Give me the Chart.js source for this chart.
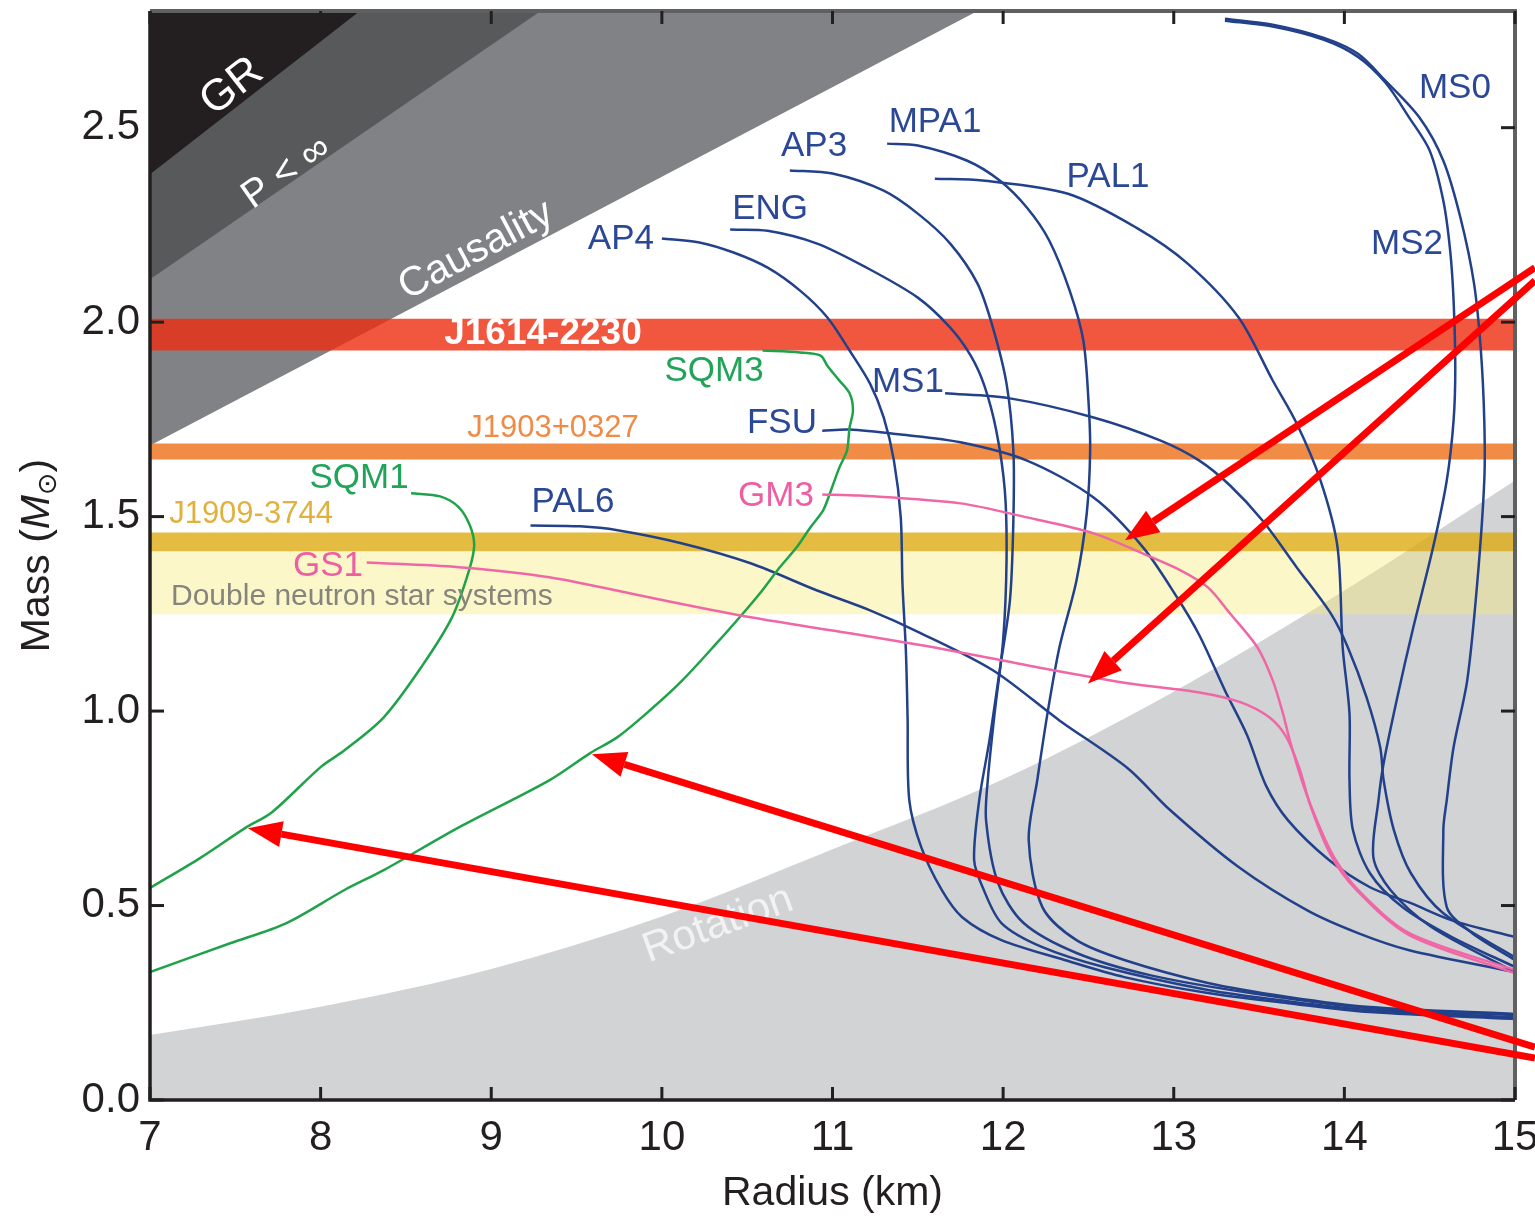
<!DOCTYPE html>
<html>
<head>
<meta charset="utf-8">
<title>Mass-radius</title>
<script src="https://cdn.jsdelivr.net/npm/chart.js@4.4.1/dist/chart.umd.min.js"></script>
<style>
  html, body { margin: 0; padding: 0; background: #ffffff; }
  #wrap { width: 1535px; height: 1218px; }
</style>
</head>
<body>
<div id="wrap"><canvas id="mrChart" width="1535" height="1218"></canvas></div>
<script>
(function () {
    "use strict";

    // Axis ticks
    const radiusTicks = [7, 8, 9, 10, 11, 12, 13, 14, 15];
    const massTicks = [0, 0.5, 1.0, 1.5, 2.0, 2.5];

    // Excluded regions (radius km, mass Msun)
    const grEdge = [[7, 2.38], [8.23, 2.8]];
    const pinfEdge = [[7, 2.11], [9.29, 2.8]];
    const causalityEdge = [[7, 1.683], [11.85, 2.8]];
    const rotationEdge = [[7, 0.167], [8, 0.24], [9, 0.337], [10, 0.472], [11, 0.645], [12, 0.825], [13, 1.05], [14, 1.31], [15, 1.593]];

    // Pulsar mass bands [low, high]
    const j1614 = [1.927, 2.009];
    const j1903 = [1.647, 1.688];
    const j1909 = [1.411, 1.459];
    const dns = [1.249, 1.411];

    // Equation of state curves
    const ap4 = [[10.00, 2.215], [10.22, 2.205], [10.42, 2.179], [10.62, 2.140], [10.81, 2.081], [10.97, 2.012], [11.10, 1.927], [11.22, 1.842], [11.30, 1.755], [11.36, 1.644], [11.40, 1.498], [11.41, 1.328], [11.43, 1.156], [11.44, 0.984], [11.45, 0.771], [11.52, 0.650], [11.64, 0.540], [11.76, 0.470], [11.99, 0.411], [12.36, 0.360], [12.71, 0.316], [13.20, 0.275], [13.67, 0.249], [14.15, 0.226], [15.0, 0.208]];
    const eng = [[10.40, 2.238], [10.62, 2.235], [10.91, 2.202], [11.20, 2.140], [11.50, 2.063], [11.69, 1.986], [11.81, 1.914], [11.89, 1.837], [11.96, 1.721], [12.01, 1.567], [12.02, 1.387], [12.00, 1.182], [11.95, 0.994], [11.91, 0.822], [11.90, 0.719], [11.97, 0.558], [12.12, 0.455], [12.43, 0.378], [12.86, 0.321], [13.45, 0.275], [14.15, 0.236], [15.0, 0.218]];
    const ap3 = [[10.75, 2.390], [11.00, 2.382], [11.30, 2.338], [11.50, 2.279], [11.69, 2.202], [11.85, 2.099], [11.94, 1.986], [12.02, 1.842], [12.06, 1.670], [12.06, 1.490], [12.04, 1.285], [11.98, 1.105], [11.92, 0.925], [11.86, 0.771], [11.83, 0.617], [11.88, 0.547], [11.99, 0.455], [12.23, 0.393], [12.59, 0.342], [13.20, 0.283], [13.67, 0.254], [14.15, 0.231], [15.0, 0.213]];
    const mpa1 = [[11.32, 2.459], [11.50, 2.454], [11.79, 2.415], [11.98, 2.364], [12.14, 2.294], [12.27, 2.210], [12.39, 2.081], [12.47, 1.953], [12.50, 1.799], [12.51, 1.670], [12.49, 1.508], [12.43, 1.336], [12.33, 1.164], [12.26, 0.994], [12.20, 0.822], [12.15, 0.668], [12.23, 0.496], [12.43, 0.411], [12.71, 0.360], [13.20, 0.301], [13.67, 0.265], [14.15, 0.239], [15.0, 0.221]];
    const pal1 = [[11.60, 2.369], [11.88, 2.364], [12.38, 2.330], [12.78, 2.243], [13.08, 2.151], [13.38, 2.012], [13.58, 1.850], [13.72, 1.740], [13.86, 1.593], [13.96, 1.421], [13.99, 1.164], [14.03, 0.994], [14.03, 0.822], [14.05, 0.694], [14.15, 0.583], [14.34, 0.496], [14.63, 0.419], [15.0, 0.342]];
    const ms1 = [[11.66, 1.817], [12.04, 1.804], [12.53, 1.755], [12.92, 1.696], [13.15, 1.644], [13.33, 1.580], [13.52, 1.490], [13.72, 1.370], [13.92, 1.251], [14.02, 1.164], [14.13, 1.035], [14.21, 0.907], [14.23, 0.822], [14.29, 0.694], [14.39, 0.583], [14.58, 0.480], [15.0, 0.367]];
    const ms2 = [[13.30, 2.775], [13.58, 2.760], [13.88, 2.726], [14.08, 2.682], [14.24, 2.616], [14.38, 2.526], [14.50, 2.441], [14.58, 2.312], [14.62, 2.184], [14.64, 2.056], [14.65, 1.883], [14.64, 1.747], [14.60, 1.593], [14.52, 1.421], [14.40, 1.208], [14.31, 1.035], [14.23, 0.866], [14.20, 0.771], [14.17, 0.624], [14.27, 0.540], [14.51, 0.445], [15.0, 0.329]];
    const ms0 = [[13.30, 2.780], [13.58, 2.765], [13.88, 2.731], [14.08, 2.690], [14.24, 2.621], [14.44, 2.526], [14.58, 2.415], [14.68, 2.269], [14.76, 2.099], [14.80, 1.927], [14.82, 1.747], [14.82, 1.593], [14.78, 1.336], [14.72, 1.079], [14.64, 0.907], [14.60, 0.771], [14.58, 0.694], [14.60, 0.496], [14.75, 0.429], [15.0, 0.360]];
    const fsu = [[10.94, 1.721], [11.10, 1.724], [11.40, 1.711], [11.75, 1.691], [12.14, 1.644], [12.53, 1.549], [12.82, 1.421], [13.02, 1.292], [13.15, 1.195], [13.30, 1.053], [13.43, 0.938], [13.54, 0.809], [13.67, 0.719], [13.91, 0.617], [14.15, 0.547], [14.39, 0.506], [14.63, 0.462], [15.0, 0.419]];
    const pal6 = [[9.23, 1.477], [9.52, 1.475], [9.74, 1.465], [10.12, 1.431], [10.52, 1.380], [10.91, 1.310], [11.22, 1.259], [11.51, 1.202], [11.94, 1.105], [12.33, 0.976], [12.73, 0.853], [12.98, 0.745], [13.38, 0.599], [13.78, 0.488], [14.08, 0.429], [14.38, 0.385], [15.0, 0.329]];
    const gm3 = [[10.94, 1.557], [11.16, 1.554], [11.75, 1.534], [12.14, 1.498], [12.53, 1.457], [12.82, 1.405], [13.04, 1.362], [13.20, 1.318], [13.33, 1.251], [13.49, 1.164], [13.58, 1.079], [13.64, 0.994], [13.68, 0.925], [13.76, 0.809], [13.85, 0.707], [13.94, 0.624], [14.08, 0.540], [14.38, 0.429], [15.0, 0.334]];
    const gs1 = [[8.27, 1.382], [8.81, 1.370], [9.34, 1.344], [9.93, 1.292], [10.52, 1.241], [11.10, 1.200], [11.69, 1.156], [12.27, 1.107], [12.74, 1.071], [13.15, 1.048], [13.39, 1.023], [13.56, 0.984], [13.66, 0.933], [13.74, 0.848], [13.80, 0.758], [13.92, 0.630], [14.07, 0.540], [14.38, 0.424], [15.0, 0.326]];
    const sqm1 = [[8.53, 1.560], [8.70, 1.552], [8.81, 1.524], [8.875, 1.477], [8.90, 1.426], [8.87, 1.362], [8.77, 1.241], [8.59, 1.113], [8.37, 0.984], [8.14, 0.899], [8.00, 0.856], [7.715, 0.740], [7.557, 0.699], [7.293, 0.622], [7.0, 0.545]];
    const sqm3 = [[10.59, 1.927], [10.81, 1.922], [10.93, 1.914], [10.97, 1.888], [11.03, 1.855], [11.10, 1.817], [11.12, 1.773], [11.10, 1.729], [11.085, 1.670], [11.04, 1.626], [10.985, 1.560], [10.945, 1.516], [10.87, 1.472], [10.79, 1.421], [10.69, 1.369], [10.575, 1.303], [10.475, 1.251], [10.32, 1.174], [10.12, 1.079], [9.93, 1.002], [9.74, 0.933], [9.58, 0.892], [9.34, 0.822], [8.81, 0.701], [8.37, 0.591], [8.14, 0.540], [7.80, 0.455], [7.47, 0.403], [7.0, 0.329]];

    // Label anchors [text, radius, mass]
    const blueLabels = [['MS0', 14.648, 2.600], ['MPA1', 11.601, 2.515], ['AP3', 10.892, 2.451], ['PAL1', 12.615, 2.372], ['ENG', 10.634, 2.289], ['MS2', 14.367, 2.199], ['AP4', 9.760, 2.212], ['MS1', 11.442, 1.845], ['FSU', 10.704, 1.739], ['PAL6', 9.479, 1.536]];
    const greenLabels = [['SQM3', 10.306, 1.873], ['SQM1', 8.225, 1.598]];
    const pinkLabels = [['GM3', 10.669, 1.552], ['GS1', 8.043, 1.372]];
    const regionLabels = [['GR', 7.481, 2.605, -38, 44], ['P < ∞', 7.80, 2.385, -35, 39], ['Causality', 8.911, 2.184, -28, 41], ['Rotation', 10.329, 0.450, -20, 42]];

    // Annotation arrows [tail radius, tail mass, head radius, head mass]
    const arrows = [[15.117, 2.140, 12.714, 1.439], [15.117, 2.107, 12.497, 1.071], [15.117, 0.136, 9.59, 0.889], [15.117, 0.108, 7.574, 0.699]];

    const pts = a => a.map(p => ({x: p[0], y: p[1]}));
    const FONT = '"Liberation Sans", Arial, "DejaVu Sans", sans-serif';

    const blue = '#22418a', pink = '#f067a6', green = '#1fa24a';

    function curve(label, arr, color, order) {
        return {
            label, data: pts(arr), showLine: true, fill: false,
            borderColor: color, borderWidth: 2.5, pointRadius: 0,
            tension: 0.3, order
        };
    }
    function wedge(label, arr, color, fill, order, mono) {
        return {
            label, data: pts(arr), showLine: true, fill: fill,
            borderWidth: 0, borderColor: 'rgba(0,0,0,0)', backgroundColor: color,
            pointRadius: 0, tension: mono ? 0.4 : 0,
            cubicInterpolationMode: mono ? 'monotone' : 'default', order
        };
    }
    function band(label, range, color, order) {
        return {
            label, data: pts([[7, range[1]], [15, range[1]]]), showLine: true,
            fill: {value: range[0]}, borderWidth: 0, borderColor: 'rgba(0,0,0,0)',
            backgroundColor: color, pointRadius: 0, order
        };
    }

    const datasets = [
        wedge('Causality', causalityEdge, '#808285', 'end', 200),
        wedge('P<inf', pinfEdge, '#58595b', 'end', 199),
        wedge('GR', grEdge, '#231f20', 'end', 198),
        wedge('Rotation', rotationEdge, '#d1d3d4', 'start', 197, true),
        band('DNS', dns, 'rgba(247,236,120,0.4)', 150),
        band('J1909-3744', j1909, 'rgba(221,171,19,0.8)', 149),
        band('J1903+0327', j1903, 'rgba(236,111,24,0.8)', 148),
        band('J1614-2230', j1614, 'rgba(238,45,15,0.8)', 147),
        curve('AP4', ap4, blue, 30),
        curve('ENG', eng, blue, 30),
        curve('AP3', ap3, blue, 30),
        curve('MPA1', mpa1, blue, 30),
        curve('PAL1', pal1, blue, 30),
        curve('MS1', ms1, blue, 30),
        curve('MS2', ms2, blue, 30),
        curve('MS0', ms0, blue, 30),
        curve('FSU', fsu, blue, 30),
        curve('PAL6', pal6, blue, 30),
        curve('GM3', gm3, pink, 20),
        curve('GS1', gs1, pink, 20),
        curve('SQM1', sqm1, green, 20),
        curve('SQM3', sqm3, green, 20)
    ];

    // Texts, frame with inward ticks, arrows
    const overlay = {
        id: 'overlay',
        afterDraw(chart) {
            const {ctx, chartArea: a, scales: {x, y}} = chart;
            const px = v => x.getPixelForValue(v);
            const py = v => y.getPixelForValue(v);

            function text(str, r, m, size, color, angle, weight) {
                ctx.save();
                ctx.translate(px(r), py(m));
                ctx.rotate((angle || 0) * Math.PI / 180);
                ctx.font = (weight || '') + ' ' + size + 'px ' + FONT;
                ctx.fillStyle = color;
                ctx.textAlign = 'center';
                ctx.textBaseline = 'middle';
                ctx.fillText(str, 0, 0);
                ctx.restore();
            }

            ctx.save();
            regionLabels.forEach(l => text(l[0], l[1], l[2], l[4], l[0] === 'Rotation' ? '#f2f2f3' : '#ffffff', l[3]));
            text('J1614-2230', 9.303, 1.971, 37, '#ffffff', 0, 'bold');
            text('J1903+0327', 9.362, 1.727, 31, '#ef8b45');
            text('J1909-3744', 7.592, 1.505, 31, '#e0b13f');
            text('Double neutron star systems', 8.242, 1.295, 30, '#85857e');
            blueLabels.forEach(l => text(l[0], l[1], l[2], 35, '#2a4896'));
            greenLabels.forEach(l => text(l[0], l[1], l[2], 35, '#22a35a'));
            pinkLabels.forEach(l => text(l[0], l[1], l[2], 35, '#ee5ea3'));

            // frame
            ctx.lineCap = 'butt';
            ctx.strokeStyle = '#5f6062';
            ctx.lineWidth = 4;
            ctx.beginPath();
            ctx.moveTo(a.left, a.top); ctx.lineTo(a.right, a.top); ctx.lineTo(a.right, a.bottom);
            ctx.stroke();
            ctx.strokeStyle = '#231f20';
            ctx.lineWidth = 3.5;
            ctx.beginPath();
            ctx.moveTo(a.left, a.top); ctx.lineTo(a.left, a.bottom); ctx.lineTo(a.right, a.bottom);
            ctx.stroke();

            ctx.lineWidth = 3;
            const seg = (x1, y1, x2, y2) => { ctx.beginPath(); ctx.moveTo(x1, y1); ctx.lineTo(x2, y2); ctx.stroke(); };
            massTicks.forEach(v => { const yy = py(v); seg(a.left, yy, a.left + 14, yy); seg(a.right - 14, yy, a.right, yy); });
            radiusTicks.forEach(v => { const xx = px(v); seg(xx, a.bottom, xx, a.bottom - 13); seg(xx, a.top, xx, a.top + 13); });

            // y title: Mass (M_sun)
            ctx.save();
            ctx.translate(38, (a.top + a.bottom) / 2);
            ctx.rotate(-Math.PI / 2);
            ctx.fillStyle = '#231f20';
            ctx.textBaseline = 'middle';
            ctx.textAlign = 'left';
            const parts = [['Mass (', '41px ' + FONT, 0], ['M', 'italic 41px ' + FONT, 0], ['⊙', '27px "DejaVu Sans", sans-serif', 11], [')', '41px ' + FONT, 0]];
            let total = 0;
            parts.forEach(p => { ctx.font = p[1]; p.push(ctx.measureText(p[0]).width); total += p[3]; });
            let cx = -total / 2;
            parts.forEach(p => { ctx.font = p[1]; ctx.fillText(p[0], cx, p[2]); cx += p[3]; });
            ctx.restore();

            // red arrows
            ctx.strokeStyle = '#ff0000';
            ctx.fillStyle = '#ff0000';
            ctx.lineWidth = 7;
            arrows.forEach(r => {
                const x1 = px(r[0]), y1 = py(r[1]), x2 = px(r[2]), y2 = py(r[3]);
                const ang = Math.atan2(y2 - y1, x2 - x1);
                const hl = 34, hw = 13;
                const bx = x2 - hl * Math.cos(ang), by = y2 - hl * Math.sin(ang);
                seg(x1, y1, bx, by);
                ctx.beginPath();
                ctx.moveTo(x2, y2);
                ctx.lineTo(bx + hw * Math.sin(ang), by - hw * Math.cos(ang));
                ctx.lineTo(bx - hw * Math.sin(ang), by + hw * Math.cos(ang));
                ctx.closePath();
                ctx.fill();
            });
            ctx.restore();
        }
    };

    new Chart(document.getElementById('mrChart'), {
        type: 'scatter',
        data: {datasets},
        options: {
            responsive: false,
            devicePixelRatio: 1,
            animation: false,
            layout: {padding: {top: 11, right: 20, left: 0, bottom: 0}},
            plugins: {legend: {display: false}, tooltip: {enabled: false}},
            scales: {
                x: {
                    type: 'linear', min: 7, max: 15,
                    grid: {display: false, drawTicks: false},
                    border: {display: false},
                    ticks: {stepSize: 1, autoSkip: false, maxRotation: 0, padding: 13, color: '#231f20', font: {family: FONT, size: 42}},
                    title: {display: true, text: 'Radius (km)', color: '#231f20', font: {family: FONT, size: 41}, padding: {top: 0, bottom: 0}},
                    afterFit(s) { s.height = 118; s.paddingLeft = 0; s.paddingRight = 0; }
                },
                y: {
                    type: 'linear', min: 0, max: 2.8,
                    grid: {display: false, drawTicks: false},
                    border: {display: false},
                    ticks: {stepSize: 0.5, includeBounds: false, padding: 10, color: '#231f20', font: {family: FONT, size: 42}, callback: v => v.toFixed(1)},
                    afterFit(s) { s.width = 150; s.paddingTop = 0; s.paddingBottom = 0; }
                }
            }
        },
        plugins: [overlay]
    });
})();
</script>
</body>
</html>
